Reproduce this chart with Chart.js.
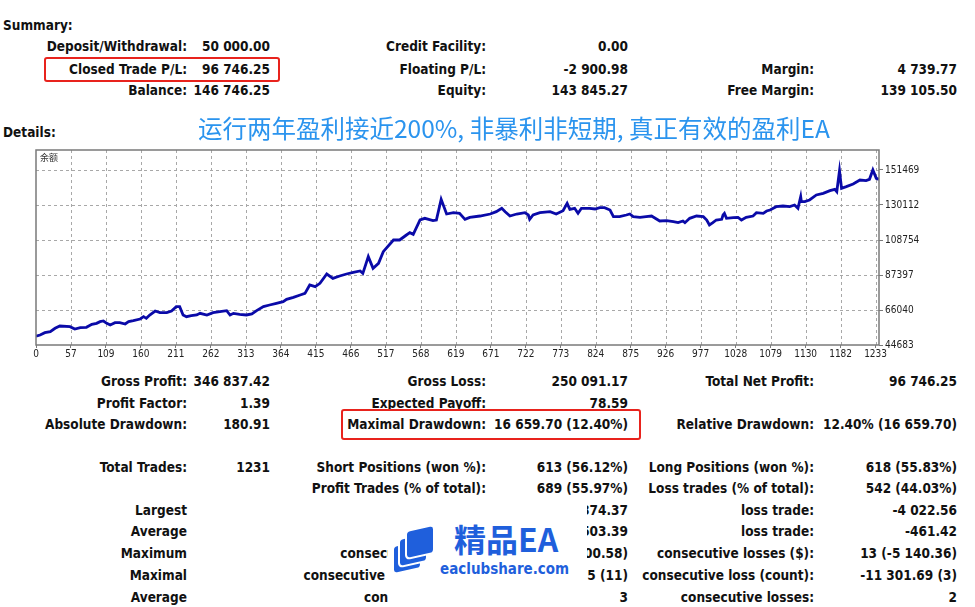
<!DOCTYPE html>
<html lang="en">
<head>
<meta charset="UTF-8" />
<title>Strategy Tester Report</title>
<script src="https://cdn.jsdelivr.net/npm/chart.js"></script>
<style>
  html, body { margin: 0; padding: 0; background: #fff; }
  body { width: 975px; height: 607px; position: relative; overflow: hidden;
         font-family: "DejaVu Sans Condensed", "DejaVu Sans", sans-serif; font-stretch: condensed;
         font-weight: bold; font-size: 13.5px; color: #111; }
  .t { position: absolute; white-space: nowrap; line-height: 16px; height: 16px; }
  .clip { position: absolute; overflow: hidden; height: 16px; }
  .box { position: absolute; border: 2px solid #e8231d; border-radius: 3px; }
  #chartWrap { position: absolute; left: 0; top: 140px; width: 930px; height: 225px; }
  .slogan { position: absolute; left: 198px; top: 110px; font-family: "Noto Sans CJK SC", sans-serif;
            font-weight: normal; font-size: 24.5px; color: #2b94ee; white-space: nowrap; }
  .wm { position: absolute; color: #1f5fdc; white-space: nowrap; }
  .layer { position: absolute; width: 26px; height: 26px; border-radius: 5px; background: #1f5fdc;
           border: 2px solid #fff; transform: skewY(-12deg); }
</style>
</head>
<body>
<div id="chartWrap"><canvas id="balanceChart"></canvas></div>

<script>
// balance curve: trade number and balance
const tradeNo = [0, 6, 13, 21, 28, 35, 50, 57, 65, 74, 82, 89, 94, 99, 104, 109, 116, 123, 131, 136,
  143, 153, 158, 162, 167, 175, 182, 192, 199, 206, 211, 216, 221, 228, 236, 241, 251, 260, 270, 280,
  285, 290, 299, 309, 317, 324, 334, 343, 353, 363, 368, 378, 388, 395, 402, 410, 417, 427, 436, 446,
  456, 466, 476, 480, 488, 495, 503, 510, 525, 534, 544, 549, 554, 564, 571, 583, 588, 595, 603, 613,
  622, 630, 637, 652, 667, 676, 684, 689, 696, 706, 718, 723, 725, 730, 740, 755, 764, 774, 780, 784,
  791, 796, 801, 813, 821, 828, 835, 843, 848, 857, 867, 872, 877, 887, 896, 904, 916, 926, 936, 943,
  950, 953, 960, 970, 980, 985, 989, 994, 999, 1007, 1009, 1011, 1014, 1024, 1031, 1036, 1043, 1053, 1058, 1068,
  1073, 1078, 1087, 1097, 1107, 1114, 1119, 1123, 1124, 1129, 1136, 1146, 1156, 1166, 1173, 1176, 1180, 1183, 1190, 1200,
  1210, 1219, 1224, 1229, 1234, 1238];
const balance = [50000, 50785, 52209, 52819, 54853, 56277, 55870, 54446, 55260, 55463, 57294, 57904, 58921, 59328, 57904, 56887, 58311, 58311, 57497, 58921,
  59531, 60548, 61972, 60955, 62989, 65430, 64413, 64413, 65430, 68074, 68074, 62989, 61972, 62582, 62989, 64006, 62989, 64413, 65023, 65633,
  62989, 64006, 63396, 62989, 63599, 65633, 68074, 69091, 70108, 71125, 72549, 73769, 75193, 76210, 81295, 80278, 82312, 88007, 85363, 86787,
  88007, 89024, 89838, 88414, 98584, 91465, 94516, 101635, 108754, 108754, 111805, 113229, 112212, 120958, 121975, 120551, 120958, 133569, 124619, 125433,
  125026, 121365, 122585, 123399, 124619, 126043, 128077, 126043, 123399, 124619, 125433, 124009, 121365, 124009, 125433, 126043, 124619, 126653, 131128, 127467,
  128077, 125026, 128077, 128077, 127670, 128484, 128484, 127060, 122992, 122992, 124009, 124619, 122992, 122585, 122992, 123399, 120348, 120551, 119941, 119331,
  120348, 119331, 121975, 123399, 122992, 120958, 117907, 119331, 120958, 121365, 124009, 125026, 121975, 122382, 122585, 120958, 122585, 123399, 125433, 125026,
  126450, 127060, 129094, 129501, 129094, 130111, 128077, 135202, 132151, 132151, 133168, 136219, 137236, 138864, 139677, 138253, 151067, 140287, 141304, 142932,
  145373, 144966, 145780, 151475, 146390, 145780];

const xTickLabels = ["0", "57", "109", "160", "211", "262", "313", "364", "415", "466", "517", "568", "619",
  "671", "722", "773", "824", "875", "926", "977", "1028", "1079", "1130", "1182", "1233"];
const yTickValues = [44683, 66040, 87397, 108754, 130112, 151469];
const yTop = 163673;
const xLast = 1233;
const xMax = 1238;

// report text: [label, value] per column
const summaryCol1 = [["Deposit/Withdrawal:", "50 000.00"], ["Closed Trade P/L:", "96 746.25"], ["Balance:", "146 746.25"]];
const summaryCol2 = [["Credit Facility:", "0.00"], ["Floating P/L:", "-2 900.98"], ["Equity:", "143 845.27"]];
const summaryCol3 = [null, ["Margin:", "4 739.77"], ["Free Margin:", "139 105.50"]];

const detailsCol1 = [["Gross Profit:", "346 837.42"], ["Profit Factor:", "1.39"], ["Absolute Drawdown:", "180.91"]];
const detailsCol2 = [["Gross Loss:", "250 091.17"], ["Expected Payoff:", "78.59"], ["Maximal Drawdown:", "16 659.70 (12.40%)"]];
const detailsCol3 = [["Total Net Profit:", "96 746.25"], null, ["Relative Drawdown:", "12.40% (16 659.70)"]];

const tradesCol1 = [["Total Trades:", "1231"], null, ["Largest", ""], ["Average", ""], ["Maximum", ""], ["Maximal", ""], ["Average", ""]];
const tradesCol2 = [["Short Positions (won %):", "613 (56.12%)"], ["Profit Trades (% of total):", "689 (55.97%)"],
  ["profit trade:", "374.37"], ["profit trade:", "503.39"], ["consecutive wins ($):", "00.58)"],
  ["consecutive profit (count):", "5 (11)"], ["consecutive wins:", "3"]];
const tradesCol3 = [["Long Positions (won %):", "618 (55.83%)"], ["Loss trades (% of total):", "542 (44.03%)"],
  ["loss trade:", "-4 022.56"], ["loss trade:", "-461.42"], ["consecutive losses ($):", "13 (-5 140.36)"],
  ["consecutive loss (count):", "-11 301.69 (3)"], ["consecutive losses:", "2"]];

function put(text, right, y, left) {
  const d = document.createElement("div");
  d.className = "t";
  d.textContent = text;
  d.style.top = (y - 8) + "px";
  if (left !== undefined) d.style.left = left + "px";
  else d.style.right = (975 - right) + "px";
  document.body.appendChild(d);
  return d;
}
// text cut off at a clip window (where the watermark sits)
function putClipped(text, right, y, clipLeft, clipRight) {
  const w = document.createElement("div");
  w.className = "clip";
  w.style.left = clipLeft + "px";
  w.style.width = (clipRight - clipLeft) + "px";
  w.style.top = (y - 8) + "px";
  const d = document.createElement("div");
  d.className = "t";
  d.style.top = "0px";
  d.style.right = (clipRight - right) + "px";
  d.textContent = text;
  w.appendChild(d);
  document.body.appendChild(w);
}

function putColumn(rows, labelRight, valueRight, ys) {
  rows.forEach((r, i) => {
    if (!r) return;
    put(r[0], labelRight, ys[i]);
    if (r[1]) put(r[1], valueRight, ys[i]);
  });
}

put("Summary:", 0, 25, 3);
put("Details:", 0, 132, 3);
const sumY = [46, 69, 90];
putColumn(summaryCol1, 187, 270, sumY);
putColumn(summaryCol2, 486, 628, sumY);
putColumn(summaryCol3, 814, 957, sumY);

const detY = [381, 403, 424];
putColumn(detailsCol1, 187, 270, detY);
putColumn(detailsCol2, 486, 628, detY);
putColumn(detailsCol3, 814, 957, detY);

const trY = [467, 488, 510, 531, 553, 575, 597];
putColumn(tradesCol1, 187, 270, trY);
putColumn(tradesCol3, 814, 957, trY);
tradesCol2.forEach((r, i) => {
  if (i < 2) { put(r[0], 486, trY[i]); put(r[1], 628, trY[i]); return; }
  putClipped(r[0], 486, trY[i], 200, 388);
  putClipped(r[1], 628, trY[i], 587, 640);
});

// red highlight boxes
[[44, 57, 236, 25], [341, 409, 300, 31]].forEach(b => {
  const d = document.createElement("div");
  d.className = "box";
  d.style.left = b[0] + "px"; d.style.top = b[1] + "px";
  d.style.width = (b[2] - 4) + "px"; d.style.height = (b[3] - 4) + "px";
  document.body.appendChild(d);
});

// dashed grid + frame round the plot, MT4 style
const frame = {
  id: "frame",
  beforeDatasetsDraw(chart) {
    const { ctx, chartArea: a, scales } = chart;
    ctx.save();
    ctx.strokeStyle = "#a8a8a8";
    ctx.lineWidth = 1;
    ctx.setLineDash([3, 3]);
    ctx.beginPath();
    scales.x.ticks.forEach((t, i) => {
      const x = Math.round(scales.x.getPixelForTick(i)) + 0.5;
      if (x <= a.left + 1 || x >= a.right - 1) return;
      ctx.moveTo(x, a.top); ctx.lineTo(x, a.bottom);
    });
    scales.y.ticks.forEach((t, i) => {
      const y = Math.round(scales.y.getPixelForTick(i)) + 0.5;
      if (y >= a.bottom - 1) return;
      ctx.moveTo(a.left, y); ctx.lineTo(a.right, y);
    });
    ctx.stroke();
    ctx.restore();
  },
  afterDraw(chart) {
    const { ctx, chartArea: a } = chart;
    ctx.save();
    ctx.strokeStyle = "#7a7a7a";
    ctx.lineWidth = 1.5;
    ctx.strokeRect(a.left, a.top, a.right - a.left, a.bottom - a.top);
    ctx.fillStyle = "#333";
    ctx.font = "9px 'Noto Sans CJK SC'";
    ctx.textBaseline = "top";
    ctx.fillText("余额", a.left + 4, a.top + 3);
    ctx.restore();
  }
};

const tickFont = { family: "DejaVu Sans Condensed", size: 10 };
const gridOpts = { drawOnChartArea: false, tickColor: "#7a7a7a" };

new Chart(document.getElementById("balanceChart"), {
  type: "line",
  data: {
    datasets: [{
      data: tradeNo.map((t, i) => ({ x: t, y: balance[i] })),
      borderColor: "#0a0aa8",
      borderWidth: 2.8,
      pointRadius: 0,
      tension: 0,
      fill: false
    }]
  },
  options: {
    responsive: true,
    maintainAspectRatio: false,
    animation: false,
    layout: { padding: { left: 36, top: 10, right: 0, bottom: 0 } },
    plugins: { legend: { display: false }, tooltip: { enabled: false } },
    scales: {
      x: {
        type: "linear",
        min: 0,
        max: xMax,
        afterBuildTicks: s => { s.ticks = xTickLabels.map((_, i) => ({ value: i * xLast / (xTickLabels.length - 1) })); },
        afterFit: s => { s.height = 20; },
        ticks: {
          callback: (v, i) => xTickLabels[i],
          maxRotation: 0, autoSkip: false, padding: 0,
          color: "#222", font: tickFont
        },
        grid: { ...gridOpts, tickLength: 3 },
        border: { display: false }
      },
      y: {
        position: "right",
        min: yTickValues[0],
        max: yTop,
        afterBuildTicks: s => { s.ticks = yTickValues.map(v => ({ value: v })); },
        afterFit: s => { s.width = 51; },
        ticks: { padding: 2, color: "#222", font: tickFont, callback: v => String(v) },
        grid: { ...gridOpts, tickLength: 4 },
        border: { display: false }
      }
    }
  },
  plugins: [frame]
});
</script>

<div class="slogan">运行两年盈利接近200%, 非暴利非短期, 真正有效的盈利EA</div>

<!-- watermark -->
<div class="layer" style="left:392px; top:542px;"></div>
<div class="layer" style="left:398px; top:535px;"></div>
<div class="layer" style="left:405px; top:527px;"></div>
<div class="wm" style="left:454px; top:515px; font-family:'Noto Sans CJK SC'; font-weight:bold; font-size:32px;">精品EA</div>
<div class="wm" style="left:440px; top:560px; font-family:'DejaVu Sans Condensed','DejaVu Sans'; font-weight:bold; font-size:15px;">eaclubshare.com</div>
</body>
</html>
